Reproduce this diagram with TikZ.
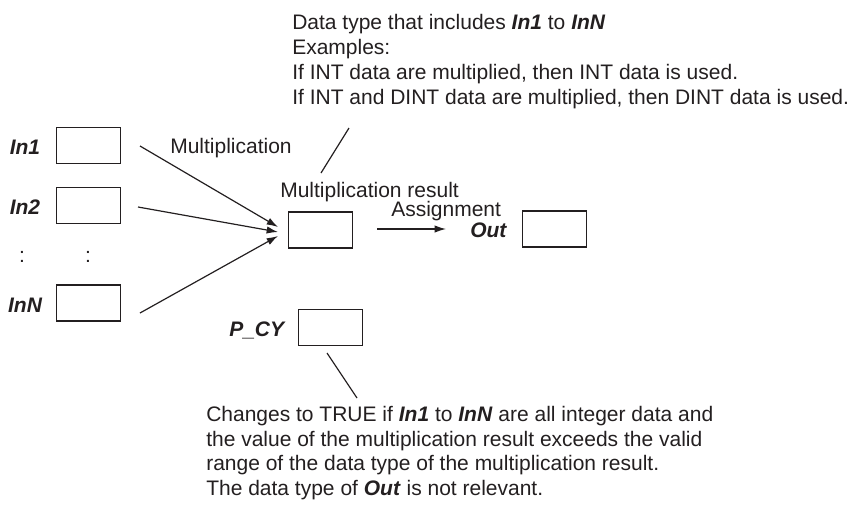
\documentclass[tikz,border=0pt]{standalone}
\usepackage{fontspec}
\setmainfont{Liberation Sans}
\usetikzlibrary{arrows.meta}
\definecolor{ink}{HTML}{231F20}
\begin{document}
\begin{tikzpicture}[x=0.75pt,y=-0.75pt,
  reg/.style={draw=ink, line width=1.15pt, minimum width=48pt, minimum height=27pt, inner sep=0pt},
  txt/.style={text=ink, font=\fontsize{15.75pt}{18.75pt}\selectfont, inner sep=0pt, anchor=base west},
  lbl/.style={text=ink, font=\fontsize{15.75pt}{18.75pt}\selectfont\bfseries\itshape, inner sep=0pt, anchor=base},
  conn/.style={draw=ink, line width=0.9pt},
  arr/.style={conn, -{Latex[length=8.5pt,width=5.5pt]}}]
\useasboundingbox (0,0) rectangle (854,504);

% input registers
\node[reg] (in1) at (88.5,145.5) {};
\node[reg] (in2) at (88.5,205.5) {};
\node[reg] (inN) at (88.5,303) {};
\node[lbl] (l1) at (25,154.5) {In1};
\node[lbl] (l2) at (25,214.5) {In2};
\node[lbl] (lN) at (25,312.5) {InN};
\node[txt, anchor=base] (d1) at (22,262.5) {:};
\node[txt, anchor=base] (d2) at (88,262.5) {:};

% result, out, carry
\node[reg] (res) at (320.5,230) {};
\node[reg] (out) at (554.5,229) {};
\node[reg] (pcy) at (330.5,327.5) {};
\node[lbl, anchor=base west] (lout) at (470,237.5) {Out};
\node[lbl, anchor=base west] (lpcy) at (229,336.5) {P\_CY};

% labels
\node[txt] (mult) at (170,153.5) {Multiplication};
\node[txt] (mres) at (280,197) {Multiplication result};
\node[txt] (asg) at (391,216) {Assignment};

% top note
\node[txt] (t1) at (292,29.5) {Data type that includes \textbf{\textit{In1}} to \textbf{\textit{InN}}};
\node[txt] (t2) at (292,54.5) {Examples:};
\node[txt] (t3) at (292,79.5) {If INT data are multiplied, then INT data is used.};
\node[txt] (t4) at (292,104.5) {If INT and DINT data are multiplied, then DINT data is used.};

% bottom note
\node[txt] (b1) at (206,421.5) {Changes to TRUE if \textbf{\textit{In1}} to \textbf{\textit{InN}} are all integer data and};
\node[txt] (b2) at (206,446) {the value of the multiplication result exceeds the valid};
\node[txt] (b3) at (206,470.5) {range of the data type of the multiplication result.};
\node[txt] (b4) at (206,495) {The data type of \textbf{\textit{Out}} is not relevant.};

% connectors
\coordinate (s1) at (140,146);
\coordinate (s2) at (138,207);
\coordinate (sN) at (140,313);
\coordinate (e1) at (278,227);
\coordinate (e2) at (278,232);
\coordinate (eN) at (278,236);
\draw[arr] (s1) -- (e1);
\draw[arr] (s2) -- (e2);
\draw[arr] (sN) -- (eN);

\coordinate (as) at (377,229);
\coordinate (ae) at (446,229);
\draw[arr] (as) -- (ae);

\coordinate (ct) at (349,128);
\coordinate (cb) at (321,173);
\draw[conn] (ct) -- (cb);

\coordinate (pt) at (327,353);
\coordinate (pb) at (357,398);
\draw[conn] (pt) -- (pb);
\end{tikzpicture}
\end{document}
